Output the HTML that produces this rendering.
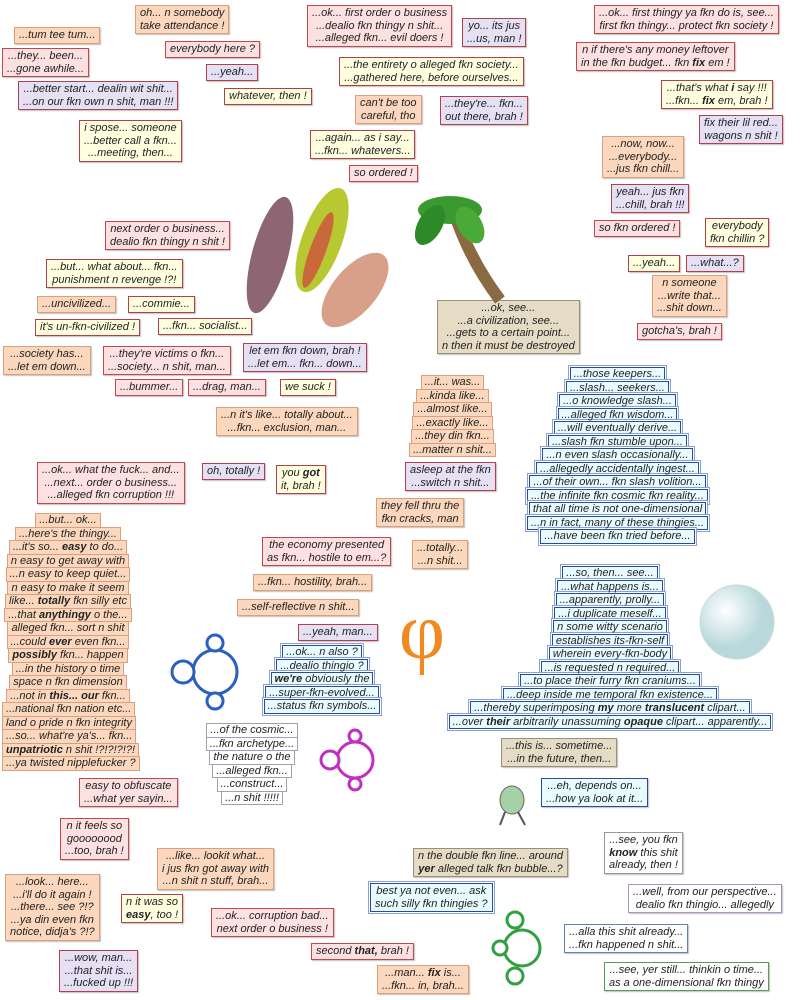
<!DOCTYPE html>
<html><head><meta charset="utf-8">
<style>
body{margin:0;width:800px;height:1000px;background:#fff;position:relative;overflow:hidden;font-family:"Liberation Sans",sans-serif;}
.b{position:absolute;font-style:italic;font-size:11px;line-height:12.5px;text-align:center;white-space:nowrap;padding:1px 4px;color:#222;box-shadow:1px 1px 1px rgba(0,0,0,.25);}
.pe{background:#fbd7bd;border:1px solid #d9a080;}
.pk{background:#fde0e0;border:1px solid #c0474f;}
.lv{background:#e6e0f4;border:1px solid #b0404a;}
.ye{background:#ffffe0;border:1px solid #b0404a;}
.tn{background:#e6dcc6;border:1px solid #9a8f78;}
.bl{background:#e8fcff;border:1px solid #2a4aa0;}
.wg{background:#fff;border:1px solid #999;}
.wp{background:#fff;border:1px solid #b090c0;}
.wb{background:#fff;border:1px solid #6080c0;}
.wr{background:#fff;border:1px solid #50a050;}
.s{position:absolute;font-style:italic;font-size:11px;text-align:center;white-space:nowrap;color:#222;}
.s div{display:table;margin:0 auto;padding:0 3px;line-height:12.5px;margin-top:-1px;}
.s.o div{background:#fbd7bd;border:1px solid #d9a080;}
.s.u div{background:#e8fcff;border:1px solid #2a4aa0;box-shadow:0 0 0 1px #fff,0 0 0 2px #8aa0d8;}
.s.w div{background:#fff;border:1px solid #a0a0b0;}
</style></head><body>

<div class="b pe" style="left:14px;top:27px">...tum tee tum...</div>
<div class="b pe" style="left:135px;top:5px">oh... n somebody<br>take attendance !</div>
<div class="b pk" style="left:2px;top:48px">...they... been...<br>...gone awhile...</div>
<div class="b pk" style="left:165px;top:41px">everybody here ?</div>
<div class="b lv" style="left:206px;top:64px">...yeah...</div>
<div class="b ye" style="left:224px;top:88px">whatever, then !</div>
<div class="b lv" style="left:18px;top:81px">...better start... dealin wit shit...<br>...on our fkn own n shit, man !!!</div>
<div class="b ye" style="left:79px;top:120px">i spose... someone<br>...better call a fkn...<br>...meeting, then...</div>
<div class="b pk" style="left:307px;top:5px">...ok... first order o business<br>...dealio fkn thingy n shit...<br>...alleged fkn... evil doers !</div>
<div class="b lv" style="left:462px;top:18px">yo... its jus<br>...us, man !</div>
<div class="b ye" style="left:339px;top:57px">...the entirety o alleged fkn society...<br>...gathered here, before ourselves...</div>
<div class="b pe" style="left:355px;top:95px">can't be too<br>careful, tho</div>
<div class="b lv" style="left:440px;top:96px">...they're... fkn...<br>out there, brah !</div>
<div class="b ye" style="left:310px;top:130px">...again... as i say...<br>...fkn... whatevers...</div>
<div class="b pk" style="left:349px;top:165px">so ordered !</div>
<div class="b pk" style="left:594px;top:5px">...ok... first thingy ya fkn do is, see...<br>first fkn thingy... protect fkn society !</div>
<div class="b pk" style="left:576px;top:42px">n if there's any money leftover<br>in the fkn budget... fkn <b>fix</b> em !</div>
<div class="b ye" style="left:661px;top:80px">...that's what <b>i</b> say !!!<br>...fkn... <b>fix</b> em, brah !</div>
<div class="b lv" style="left:699px;top:115px">fix their lil red...<br>wagons n shit !</div>
<div class="b pe" style="left:602px;top:136px">...now, now...<br>...everybody...<br>...jus fkn chill...</div>
<div class="b lv" style="left:611px;top:184px">yeah... jus fkn<br>...chill, brah !!!</div>
<div class="b pk" style="left:594px;top:220px">so fkn ordered !</div>
<div class="b ye" style="left:705px;top:218px">everybody<br>fkn chillin ?</div>
<div class="b ye" style="left:628px;top:255px">...yeah...</div>
<div class="b lv" style="left:686px;top:255px">...what...?</div>
<div class="b pe" style="left:652px;top:275px">n someone<br>...write that...<br>...shit down...</div>
<div class="b pk" style="left:637px;top:323px">gotcha's, brah !</div>

<div class="b pk" style="left:105px;top:221px">next order o business...<br>dealio fkn thingy n shit !</div>
<div class="b ye" style="left:46px;top:259px">...but... what about... fkn...<br>punishment n revenge !?!</div>
<div class="b pe" style="left:37px;top:296px">...uncivilized...</div>
<div class="b ye" style="left:128px;top:296px">...commie...</div>
<div class="b ye" style="left:35px;top:319px">it's un-fkn-civilized !</div>
<div class="b ye" style="left:158px;top:318px">...fkn... socialist...</div>
<div class="b pe" style="left:3px;top:346px">...society has...<br>...let em down...</div>
<div class="b pk" style="left:103px;top:346px">...they're victims o fkn...<br>...society... n shit, man...</div>
<div class="b lv" style="left:243px;top:343px">let em fkn down, brah !<br>...let em... fkn... down...</div>
<div class="b pk" style="left:115px;top:379px">...bummer...</div>
<div class="b pk" style="left:188px;top:379px">...drag, man...</div>
<div class="b ye" style="left:280px;top:379px">we suck !</div>
<div class="b pe" style="left:216px;top:407px">...n it's like... totally about...<br>...fkn... exclusion, man...</div>
<div class="b tn" style="left:437px;top:300px">...ok, see...<br>...a civilization, see...<br>...gets to a certain point...<br>n then it must be destroyed</div>

<div class="s o" style="left:395px;top:376px;width:115px">
<div>...it... was...</div><div>...kinda like...</div><div>...almost like...</div><div>...exactly like...</div><div>...they din fkn...</div><div>...matter n shit...</div></div>
<div class="b lv" style="left:405px;top:462px">asleep at the fkn<br>...switch n shit...</div>

<div class="b pk" style="left:37px;top:462px">...ok... what the fuck... and...<br>...next... order o business...<br>...alleged fkn corruption !!!</div>
<div class="b lv" style="left:202px;top:463px">oh, totally !</div>
<div class="b ye" style="left:276px;top:465px">you <b>got</b><br>it, brah !</div>

<div class="s o" style="left:2px;top:514px;width:132px;">
<div>...but... ok...</div><div>...here's the thingy...</div><div>...it's so... <b>easy</b> to do...</div><div>n easy to get away with</div><div>...n easy to keep quiet...</div><div>n easy to make it seem</div><div>like... <b>totally</b> fkn silly etc</div><div>...that <b>anythingy</b> o the...</div><div>alleged fkn... sort n shit</div><div>...could <b>ever</b> even fkn...</div><div><b>possibly</b> fkn... happen</div><div>...in the history o time</div><div>space n fkn dimension</div><div>...not in <b>this... our</b> fkn...</div><div>...national fkn nation etc...</div><div>land o pride n fkn integrity</div><div>...so... what're ya's... fkn...</div><div><b>unpatriotic</b> n shit !?!?!?!?!</div><div>...ya twisted nipplefucker ?</div></div>

<div class="b pe" style="left:376px;top:498px">they fell thru the<br>fkn cracks, man</div>
<div class="b pk" style="left:262px;top:537px">the economy presented<br>as fkn... hostile to em...?</div>
<div class="b pe" style="left:412px;top:540px">...totally...<br>...n shit...</div>
<div class="b pe" style="left:253px;top:574px">...fkn... hostility, brah...</div>
<div class="b pe" style="left:237px;top:599px">...self-reflective n shit...</div>
<div class="b lv" style="left:298px;top:624px">...yeah, man...</div>

<div class="s u" style="left:262px;top:646px;width:120px">
<div>...ok... n also ?</div><div>...dealio thingio ?</div><div><b>we're</b> obviously the</div><div>...super-fkn-evolved...</div><div>...status fkn symbols...</div></div>

<div class="s u" style="left:510px;top:368px;width:215px">
<div>...those keepers...</div><div>...slash... seekers...</div><div>...o knowledge slash...</div><div>...alleged fkn wisdom...</div><div>...will eventually derive...</div><div>...slash fkn stumble upon...</div><div>...n even slash occasionally...</div><div>...allegedly accidentally ingest...</div><div>...of their own... fkn slash volition...</div><div>...the infinite fkn cosmic fkn reality...</div><div>that all time is not one-dimensional</div><div>...n in fact, many of these thingies...</div><div>...have been fkn tried before...</div></div>

<div class="s u" style="left:440px;top:567px;width:340px">
<div>...so, then... see...</div><div>...what happens is...</div><div>...apparently, prolly...</div><div>...i duplicate meself...</div><div>n some witty scenario</div><div>establishes its-fkn-self</div><div>wherein every-fkn-body</div><div>...is requested n required...</div><div>...to place their furry fkn craniums...</div><div>...deep inside me temporal fkn existence...</div><div>...thereby superimposing <b>my</b> more <b>translucent</b> clipart...</div><div>...over <b>their</b> arbitrarily unassuming <b>opaque</b> clipart... apparently...</div></div>

<div class="s w" style="left:200px;top:724px;width:104px">
<div>...of the cosmic...</div><div>...fkn archetype...</div><div>the nature o the</div><div>...alleged fkn...</div><div>...construct...</div><div>...n shit !!!!!</div></div>

<div class="b pk" style="left:79px;top:778px">easy to obfuscate<br>...what yer sayin...</div>
<div class="b tn" style="left:501px;top:738px">...this is... sometime...<br>...in the future, then...</div>
<div class="b bl" style="left:541px;top:778px">...eh, depends on...<br>...how ya look at it...</div>
<div class="b pk" style="left:60px;top:818px">n it feels so<br>goooooood<br>...too, brah !</div>
<div class="b pe" style="left:157px;top:848px">...like... lookit what...<br>i jus fkn got away with<br>...n shit n stuff, brah...</div>
<div class="b tn" style="left:413px;top:848px">n the double fkn line... around<br><b>yer</b> alleged talk fkn bubble...?</div>
<div class="b wg" style="left:604px;top:832px">...see, you fkn<br><b>know</b> this shit<br>already, then !</div>
<div class="b wp" style="left:628px;top:884px">...well, from our perspective...<br>dealio fkn thingio... allegedly</div>
<div class="b pe" style="left:5px;top:874px">...look... here...<br>...i'll do it again !<br>...there... see ?!?<br>...ya din even fkn<br>notice, didja's ?!?</div>
<div class="b ye" style="left:121px;top:894px">n it was so<br><b>easy</b>, too !</div>
<div class="b pk" style="left:211px;top:908px">...ok... corruption bad...<br>next order o business !</div>
<div class="b bl" style="left:370px;top:883px;box-shadow:0 0 0 1px #fff,0 0 0 2px #8aa0d8">best ya not even... ask<br>such silly fkn thingies ?</div>
<div class="b wb" style="left:564px;top:924px">...alla this shit already...<br>...fkn happened n shit...</div>
<div class="b pk" style="left:311px;top:943px">second <b>that,</b> brah !</div>
<div class="b lv" style="left:59px;top:950px">...wow, man...<br>...that shit is...<br>...fucked up !!!</div>
<div class="b pe" style="left:377px;top:965px">...man... <b>fix</b> is...<br>...fkn... in, brah...</div>
<div class="b wr" style="left:604px;top:962px">...see, yer still... thinkin o time...<br>as a one-dimensional fkn thingy</div>

<svg style="position:absolute;left:0;top:0" width="800" height="1000">
 <!-- feathers -->
 <ellipse cx="270" cy="255" rx="18" ry="60" transform="rotate(15 270 255)" fill="#7a4a5a" opacity=".85"/>
 <ellipse cx="322" cy="240" rx="20" ry="55" transform="rotate(20 322 240)" fill="#b8c830"/>
 <ellipse cx="318" cy="250" rx="8" ry="40" transform="rotate(20 318 250)" fill="#d04040" opacity=".7"/>
 <ellipse cx="355" cy="290" rx="22" ry="45" transform="rotate(40 355 290)" fill="#d8a088"/>
 <!-- palm -->
 <path d="M455 215 Q470 260 500 300" stroke="#8a6a40" stroke-width="12" fill="none"/>
 <ellipse cx="450" cy="210" rx="32" ry="14" fill="#3a9a30"/>
 <ellipse cx="430" cy="225" rx="12" ry="22" transform="rotate(30 430 225)" fill="#2e8a28"/>
 <ellipse cx="470" cy="225" rx="12" ry="20" transform="rotate(-30 470 225)" fill="#4aaa38"/>
 <!-- phi -->
 <text x="422" y="658" font-family="Liberation Serif,serif" font-size="80" fill="#f08a20" text-anchor="middle">φ</text>
 <!-- sphere -->
 <defs><radialGradient id="g" cx=".35" cy=".35"><stop offset="0" stop-color="#fff"/><stop offset="1" stop-color="#b8d8dc"/></radialGradient></defs>
 <circle cx="737" cy="622" r="37" fill="url(#g)" stroke="#c8dcdc"/>
 <!-- mandelbrots -->
 <g fill="#fff" stroke="#2a60c0" stroke-width="3"><circle cx="215" cy="672" r="22"/><circle cx="183" cy="672" r="11"/><circle cx="215" cy="643" r="8"/><circle cx="215" cy="701" r="8"/></g>
 <g fill="#fff" stroke="#c030c0" stroke-width="3"><circle cx="355" cy="760" r="18"/><circle cx="330" cy="760" r="9"/><circle cx="355" cy="736" r="6"/><circle cx="355" cy="784" r="6"/></g>
 <g fill="#fff" stroke="#30a040" stroke-width="3"><circle cx="522" cy="948" r="18"/><circle cx="515" cy="920" r="8"/><circle cx="500" cy="948" r="7"/><circle cx="515" cy="976" r="8"/></g>
 <!-- gecko -->
 <ellipse cx="512" cy="800" rx="12" ry="14" fill="#a8d0a8" stroke="#666"/>
 <path d="M505 812 L500 825 M518 812 L525 825" stroke="#555" stroke-width="2"/>
</svg>
</body></html>
